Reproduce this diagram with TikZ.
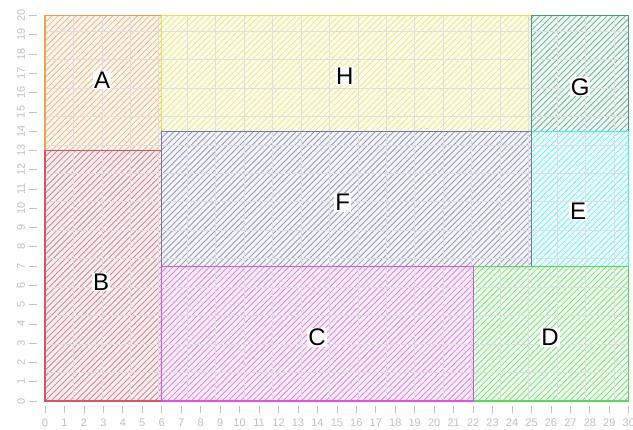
\documentclass[tikz,border=0pt]{standalone}
\usepackage{fontspec}
\setmainfont{Liberation Sans}
\definecolor{cA}{HTML}{F0A050}
\definecolor{cB}{HTML}{E05060}
\definecolor{cC}{HTML}{E050F0}
\definecolor{cD}{HTML}{50DD50}
\definecolor{cE}{HTML}{40F0F0}
\definecolor{cF}{HTML}{7078B0}
\definecolor{cG}{HTML}{40A078}
\definecolor{cH}{HTML}{E8E050}
\definecolor{tick}{HTML}{C0C0C0}
\tikzset{
  lab/.style={fill=white, inner sep=1pt, font=\fontsize{24}{26}\selectfont},
  ticklab/.style={text=tick, font=\fontsize{11}{12}\selectfont, inner sep=0pt},
  hatch/.style={line width=0.85pt}
}
\begin{document}
\begin{tikzpicture}[x=19.46pt,y=19.27pt]
\useasboundingbox[fill=white] (-45pt,-29pt) rectangle (588pt,401pt);
% tints and hatches
\foreach \c/\a/\b/\cc/\d in {cA/0/13/6/20, cB/0/0/6/13, cC/6/0/22/7, cD/22/0/30/7, cE/25/7/30/14, cF/6/7/25/14, cG/25/14/30/20, cH/6/14/25/20} {
  \fill[\c!8] (\a,\b) rectangle (\cc,\d);
  \begin{scope}
    \clip (\a,\b) rectangle (\cc,\d);
    \foreach \k in {-66,...,98}
      \draw[hatch, \c!75] (\k*6.1pt,0pt) -- ++(400pt,400pt);
  \end{scope}
}
% grid
\draw[gray!25, line width=0.8pt] (0,0) grid (30,20);
% borders
\draw[cA, line width=1.1pt] (0,13) rectangle (6,20);
\draw[cH, line width=1.1pt] (6,14) rectangle (25,20);
\draw[cG, line width=1.1pt] (25,14) rectangle (30,20);
\draw[cE, line width=1.1pt] (25,7) rectangle (30,14);
\draw[cB, line width=1.1pt] (0,0) rectangle (6,13);
\draw[cF, line width=1.1pt] (6,7) rectangle (25,14);
\draw[cD, line width=1.1pt] (22,0) rectangle (30,7);
\draw[cC, line width=1.1pt] (6,0) rectangle (22,7);
% ticks
\foreach \i in {0,...,30} {
  \draw[tick, line width=0.8pt] ([yshift=-5pt]\i,0) -- ([yshift=-12pt]\i,0);
  \node[ticklab] (xl\i) at ([yshift=-22pt]\i,0) {\i};
}
\foreach \j in {0,...,20} {
  \draw[tick, line width=0.8pt] ([xshift=-8pt]0,\j) -- ([xshift=-16pt]0,\j);
  \node[ticklab, rotate=90] (yl\j) at ([xshift=-24pt]0,\j) {\j};
}
% labels
\node[lab] (A) at (2.93,16.66) {A};
\node[lab] (H) at (15.4,16.87) {H};
\node[lab] (G) at (27.5,16.3) {G};
\node[lab] (F) at (15.3,10.3) {F};
\node[lab] (E) at (27.4,9.85) {E};
\node[lab] (B) at (2.88,6.18) {B};
\node[lab] (C) at (13.98,3.3) {C};
\node[lab] (D) at (25.95,3.3) {D};
\end{tikzpicture}
\end{document}
